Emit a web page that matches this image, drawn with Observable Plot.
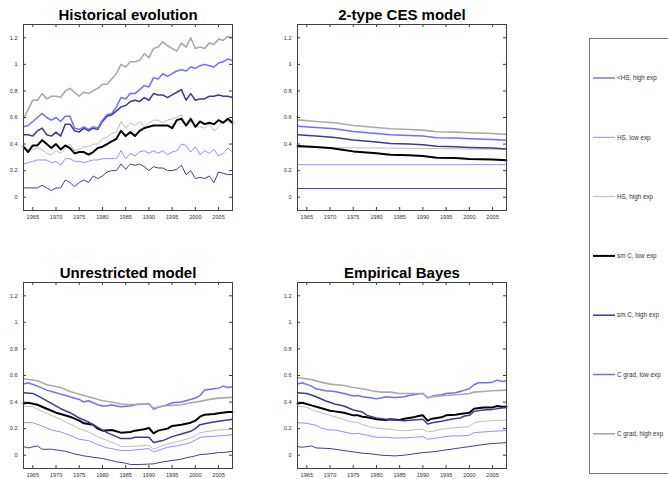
<!DOCTYPE html>
<html><head><meta charset="utf-8">
<script src="https://cdn.jsdelivr.net/npm/d3@7"></script>
<script src="https://cdn.jsdelivr.net/npm/@observablehq/plot@0.6"></script>
<style>
body{margin:0;background:#fff;}
#fig{position:relative;width:668px;height:479px;overflow:hidden;background:#fff;font-family:"Liberation Sans",Arial,sans-serif;}
#fig > *{position:absolute;}
</style></head><body><div id="fig"></div>
<script>
// ---------- series ----------
const seriesNames = ["<HS, high exp","HS, low exp","HS, high exp","sm C, low exp","sm C, high exp","C grad, low exp","C grad, high exp"];
const seriesColors = ["#40408f","#9090ff","#bdbdbd","#000000","#3c3c8c","#6e6eff","#aaaaaa"];
const seriesWidths = [1,1,1,2,1.5,1.5,1.6];

const panelTitles = ["Historical evolution","2-type CES model","Unrestricted model","Empirical Bayes"];
const xTicks = [1965,1970,1975,1980,1985,1990,1995,2000,2005];
const yTicks = [0,0.2,0.4,0.6,0.8,1,1.2];
const yTickLabels = ["0","0.2","0.4","0.6","0.8","1","1.2"];

// ---------- Historical evolution (yearly 1963-2008) ----------
const years = d3.range(1963, 2009);
const hist_lhs_high = [.07,.07,.07,.07,.09,.07,.05,.07,.07,.13,.11,.08,.11,.13,.11,.16,.14,.16,.19,.20,.20,.25,.21,.25,.24,.25,.23,.20,.23,.22,.22,.20,.20,.21,.24,.17,.20,.14,.15,.14,.16,.11,.19,.18,.17,.17];
const hist_hs_low = [.25,.26,.27,.28,.28,.28,.26,.27,.24,.29,.29,.27,.27,.26,.27,.28,.28,.29,.29,.29,.29,.35,.29,.33,.31,.34,.35,.33,.35,.33,.35,.32,.34,.35,.40,.39,.34,.38,.32,.35,.33,.36,.31,.33,.37,.34];
const hist_hs_high = [.37,.36,.36,.37,.36,.33,.32,.35,.33,.37,.40,.35,.36,.38,.38,.40,.40,.44,.45,.48,.49,.57,.52,.56,.54,.57,.53,.56,.58,.58,.56,.58,.59,.60,.62,.53,.57,.53,.53,.52,.55,.50,.53,.57,.57,.55];
const hist_smc_low = [.38,.34,.39,.39,.43,.40,.37,.40,.36,.39,.37,.33,.34,.34,.32,.34,.37,.38,.40,.42,.44,.50,.46,.49,.46,.50,.52,.53,.54,.54,.54,.54,.52,.58,.59,.54,.59,.53,.57,.55,.56,.55,.58,.56,.59,.56];
const hist_smc_high = [.47,.47,.46,.50,.52,.47,.46,.49,.46,.55,.55,.50,.49,.52,.50,.52,.51,.57,.61,.62,.65,.68,.69,.72,.73,.72,.75,.73,.78,.77,.77,.75,.77,.79,.81,.73,.78,.73,.74,.74,.76,.76,.77,.76,.76,.75];
const hist_cg_low = [.53,.54,.57,.60,.63,.60,.58,.60,.57,.61,.61,.52,.51,.53,.51,.53,.52,.58,.62,.63,.68,.75,.74,.78,.78,.81,.84,.83,.90,.89,.93,.91,.93,.95,.96,.95,.98,.97,.99,1.00,.99,.98,1.01,1.02,1.04,1.03];
const hist_cg_high = [.59,.66,.73,.73,.78,.74,.76,.76,.75,.80,.82,.79,.76,.79,.78,.80,.82,.85,.85,.89,.93,1.00,.98,1.02,1.02,1.03,1.08,1.05,1.12,1.13,1.17,1.14,1.12,1.10,1.16,1.13,1.20,1.12,1.13,1.12,1.16,1.15,1.19,1.18,1.21,1.20];

// ---------- 2-type CES model ([year, value]) ----------
const ces_lhs_high = [[1963,.065],[2008,.065]];
const ces_hs_low = [[1963,.245],[2008,.245]];
const ces_hs_high = [[1963,.375],[1975,.372],[1990,.367],[2000,.363],[2008,.36]];
const ces_smc_low = [[1963,.385],[1966,.38],[1970,.37],[1973,.355],[1975,.345],[1980,.33],[1983,.32],[1987,.315],[1990,.31],[1993,.297],[1997,.295],[2000,.288],[2005,.283],[2008,.278]];
const ces_smc_high = [[1963,.47],[1967,.46],[1971,.45],[1975,.43],[1980,.415],[1983,.405],[1987,.40],[1990,.395],[1993,.383],[1997,.38],[2000,.375],[2005,.37],[2008,.363]];
const ces_cg_low = [[1963,.535],[1967,.525],[1971,.515],[1975,.495],[1980,.48],[1983,.47],[1987,.465],[1990,.46],[1993,.448],[1997,.445],[2000,.44],[2005,.435],[2008,.428]];
const ces_cg_high = [[1963,.582],[1967,.57],[1971,.56],[1975,.54],[1980,.525],[1983,.515],[1987,.51],[1990,.505],[1993,.493],[1997,.49],[2000,.485],[2005,.48],[2008,.473]];

// ---------- Unrestricted model ----------
const unr_lhs_high = [[1963,.065],[1964,.055],[1966,.07],[1967,.045],[1969,.045],[1971,.035],[1972,.03],[1974,.01],[1976,-.005],[1978,-.015],[1980,-.025],[1982,-.04],[1983,-.05],[1985,-.06],[1986,-.07],[1988,-.07],[1991,-.065],[1993,-.05],[1995,-.04],[1997,-.03],[1998,-.02],[2000,-.005],[2001,.005],[2003,.01],[2005,.02],[2006,.02],[2008,.03]];
const unr_hs_low = [[1963,.245],[1965,.245],[1967,.22],[1969,.19],[1971,.175],[1973,.15],[1975,.12],[1977,.11],[1979,.08],[1981,.055],[1982,.05],[1984,.035],[1986,.035],[1987,.04],[1990,.05],[1991,.025],[1992,.035],[1994,.06],[1996,.07],[1998,.085],[1999,.095],[2000,.115],[2001,.135],[2003,.14],[2005,.145],[2008,.155]];
const unr_hs_high = [[1963,.37],[1965,.365],[1967,.33],[1969,.30],[1971,.27],[1972,.25],[1974,.22],[1975,.20],[1977,.175],[1979,.14],[1981,.11],[1983,.085],[1984,.065],[1986,.065],[1988,.07],[1990,.075],[1991,.045],[1992,.06],[1994,.085],[1996,.10],[1998,.12],[1999,.13],[2000,.145],[2001,.17],[2003,.18],[2005,.19],[2008,.195]];
const unr_smc_low = [[1963,.39],[1964,.395],[1966,.38],[1968,.35],[1970,.32],[1971,.31],[1973,.29],[1975,.26],[1976,.24],[1978,.23],[1979,.20],[1980,.185],[1982,.19],[1984,.17],[1986,.175],[1987,.185],[1989,.195],[1990,.205],[1991,.165],[1992,.185],[1994,.20],[1995,.22],[1997,.23],[1999,.245],[2000,.26],[2001,.29],[2002,.305],[2004,.31],[2005,.315],[2007,.325],[2008,.325]];
const unr_smc_high = [[1963,.47],[1965,.465],[1967,.43],[1969,.39],[1971,.35],[1973,.32],[1975,.28],[1977,.25],[1979,.21],[1981,.17],[1982,.155],[1983,.14],[1984,.125],[1986,.125],[1987,.135],[1990,.135],[1991,.095],[1993,.11],[1995,.14],[1997,.16],[1999,.18],[2000,.20],[2001,.23],[2003,.245],[2005,.255],[2007,.265],[2008,.27]];
const unr_cg_low = [[1963,.535],[1964,.545],[1966,.52],[1968,.49],[1970,.47],[1971,.46],[1973,.44],[1975,.42],[1976,.40],[1977,.41],[1979,.38],[1980,.37],[1981,.37],[1982,.38],[1983,.37],[1984,.365],[1986,.37],[1987,.38],[1989,.385],[1990,.39],[1991,.345],[1992,.36],[1994,.38],[1995,.395],[1997,.40],[1998,.41],[2000,.43],[2001,.45],[2002,.49],[2004,.50],[2005,.505],[2006,.52],[2007,.51],[2008,.515]];
const unr_cg_high = [[1963,.575],[1966,.56],[1968,.53],[1971,.51],[1973,.48],[1976,.45],[1978,.43],[1980,.41],[1982,.40],[1984,.385],[1986,.38],[1988,.385],[1990,.385],[1991,.355],[1993,.37],[1995,.375],[1997,.38],[1999,.395],[2001,.405],[2003,.42],[2005,.43],[2008,.435]];

// ---------- Empirical Bayes ----------
const eb_lhs_high = [[1963,.065],[1964,.06],[1966,.07],[1967,.055],[1970,.05],[1972,.04],[1975,.025],[1977,.015],[1979,.01],[1981,0],[1984,-.005],[1986,0],[1988,.01],[1990,.02],[1992,.025],[1994,.035],[1996,.045],[1998,.055],[2000,.065],[2002,.075],[2004,.085],[2006,.09],[2008,.095]];
const eb_hs_low = [[1963,.245],[1965,.24],[1967,.225],[1968,.205],[1970,.19],[1971,.19],[1973,.175],[1975,.16],[1976,.165],[1978,.15],[1980,.135],[1982,.135],[1984,.13],[1986,.13],[1988,.135],[1990,.14],[1991,.12],[1992,.125],[1994,.135],[1996,.145],[1998,.145],[2000,.15],[2001,.17],[2003,.175],[2005,.18],[2008,.185]];
const eb_hs_high = [[1963,.37],[1965,.36],[1967,.33],[1969,.31],[1970,.30],[1972,.28],[1974,.255],[1976,.245],[1977,.23],[1979,.21],[1981,.20],[1983,.195],[1985,.185],[1987,.185],[1989,.195],[1990,.195],[1991,.175],[1992,.18],[1994,.195],[1996,.205],[1998,.21],[2000,.215],[2001,.245],[2003,.255],[2005,.26],[2008,.265]];
const eb_smc_low = [[1963,.39],[1964,.395],[1966,.375],[1968,.355],[1970,.335],[1971,.33],[1973,.32],[1975,.30],[1976,.30],[1977,.29],[1978,.285],[1980,.27],[1982,.265],[1983,.27],[1985,.265],[1986,.275],[1988,.285],[1989,.295],[1990,.30],[1991,.26],[1992,.275],[1994,.285],[1995,.30],[1997,.305],[1998,.31],[2000,.32],[2001,.35],[2003,.36],[2005,.36],[2006,.37],[2007,.365],[2008,.365]];
const eb_smc_high = [[1963,.47],[1965,.465],[1967,.44],[1969,.41],[1971,.385],[1973,.37],[1975,.34],[1977,.325],[1978,.30],[1980,.28],[1982,.27],[1984,.265],[1986,.26],[1988,.265],[1990,.27],[1991,.235],[1992,.245],[1994,.255],[1996,.27],[1998,.28],[1999,.295],[2000,.30],[2001,.33],[2003,.34],[2005,.345],[2007,.355],[2008,.36]];
const eb_cg_low = [[1963,.535],[1964,.545],[1966,.52],[1967,.50],[1969,.485],[1971,.48],[1973,.465],[1975,.445],[1976,.45],[1977,.44],[1979,.43],[1980,.425],[1981,.43],[1982,.44],[1984,.435],[1986,.44],[1987,.45],[1989,.46],[1990,.465],[1991,.43],[1992,.445],[1994,.455],[1995,.465],[1997,.47],[1998,.48],[1999,.49],[2000,.50],[2001,.53],[2002,.545],[2004,.545],[2005,.55],[2006,.565],[2007,.555],[2008,.56]];
const eb_cg_high = [[1963,.585],[1966,.57],[1968,.55],[1970,.535],[1973,.525],[1975,.51],[1977,.50],[1979,.485],[1981,.475],[1983,.475],[1985,.465],[1987,.465],[1989,.465],[1990,.465],[1991,.435],[1993,.445],[1995,.45],[1997,.455],[1999,.46],[2000,.465],[2001,.475],[2003,.48],[2005,.485],[2008,.49]];

// ---------- build ----------
const histSeries = [hist_lhs_high,hist_hs_low,hist_hs_high,hist_smc_low,hist_smc_high,hist_cg_low,hist_cg_high]
  .map(vals => years.map((year, j) => ({year, value: vals[j]})));
const toRows = pairs => pairs.map(([year, value]) => ({year, value}));
const cesSeries = [ces_lhs_high,ces_hs_low,ces_hs_high,ces_smc_low,ces_smc_high,ces_cg_low,ces_cg_high].map(toRows);
const unrSeries = [unr_lhs_high,unr_hs_low,unr_hs_high,unr_smc_low,unr_smc_high,unr_cg_low,unr_cg_high].map(toRows);
const ebSeries = [eb_lhs_high,eb_hs_low,eb_hs_high,eb_smc_low,eb_smc_high,eb_cg_low,eb_cg_high].map(toRows);

const fig = document.getElementById("fig");
const FONT = '"Liberation Sans", Arial, Helvetica, sans-serif';
const AX = "#404040";

function panel(title, seriesRows, left, top, width) {
  const height = 232, mL = 23, mR = width - 23 - 209, mT = 24, mB = 22;
  const fw = width - mL - mR, fh = height - mT - mB;
  const lines = seriesRows.map((rows, i) =>
    Plot.line(rows, {x: "year", y: "value", stroke: seriesColors[i], strokeWidth: seriesWidths[i]}));
  const svg = Plot.plot({
    width, height, marginLeft: mL, marginRight: mR, marginTop: mT, marginBottom: mB,
    x: {domain: [1963, 2008], label: null},
    y: {domain: [-0.1, 1.3], label: null},
    style: {fontFamily: FONT, color: "#333", background: "transparent", overflow: "visible"},
    marks: [
      ...lines,
      Plot.frame({stroke: AX, strokeWidth: 1}),
      Plot.tickX(xTicks, {x: d => d, insetTop: fh - 3, stroke: AX}),
      Plot.tickX(xTicks, {x: d => d, insetBottom: fh - 3, stroke: AX}),
      Plot.tickY(yTicks, {y: d => d, insetRight: fw - 3, stroke: AX}),
      Plot.tickY(yTicks, {y: d => d, insetLeft: fw - 3, stroke: AX}),
      Plot.axisX(xTicks, {label: null, tickSize: 0, tickPadding: 4.5, fontSize: 5.6, tickFormat: d => String(d)}),
      Plot.axisY(yTicks, {label: null, tickSize: 0, tickPadding: 6, fontSize: 5.6, tickFormat: d => yTickLabels[yTicks.indexOf(d)]}),
      Plot.text([title], {text: d => d, frameAnchor: "top", dy: -5, lineAnchor: "bottom", fontSize: 15, fontWeight: "bold", fill: "#000"})
    ]
  });
  svg.style.left = left + "px";
  svg.style.top = top + "px";
  fig.appendChild(svg);
}

panel(panelTitles[0], histSeries, 0, 0, 240);
panel(panelTitles[1], cesSeries, 274, 0, 242);
panel(panelTitles[2], unrSeries, 0, 258, 240);
panel(panelTitles[3], ebSeries, 274, 258, 242);

// ---------- legend ----------
const lg = d3.create("svg").attr("width", 80).attr("height", 440)
  .style("left", "588px").style("top", "37px").style("font-family", FONT);
lg.append("rect").attr("x", 1.5).attr("y", 1.5).attr("width", 140).attr("height", 435)
  .attr("fill", "#fff").attr("stroke", "#7a7a7a").attr("stroke-width", 1);
const step = 355.8 / (seriesNames.length - 1);
seriesNames.forEach((name, i) => {
  const y = 41 + i * step;
  lg.append("line").attr("x1", 5).attr("x2", 27).attr("y1", y).attr("y2", y)
    .attr("stroke", seriesColors[i]).attr("stroke-width", seriesWidths[i]);
  lg.append("text").attr("x", 29).attr("y", y).attr("dy", "0.35em")
    .attr("font-size", 6.3).attr("fill", "#333").text(name);
});
fig.appendChild(lg.node());
</script></body></html>
